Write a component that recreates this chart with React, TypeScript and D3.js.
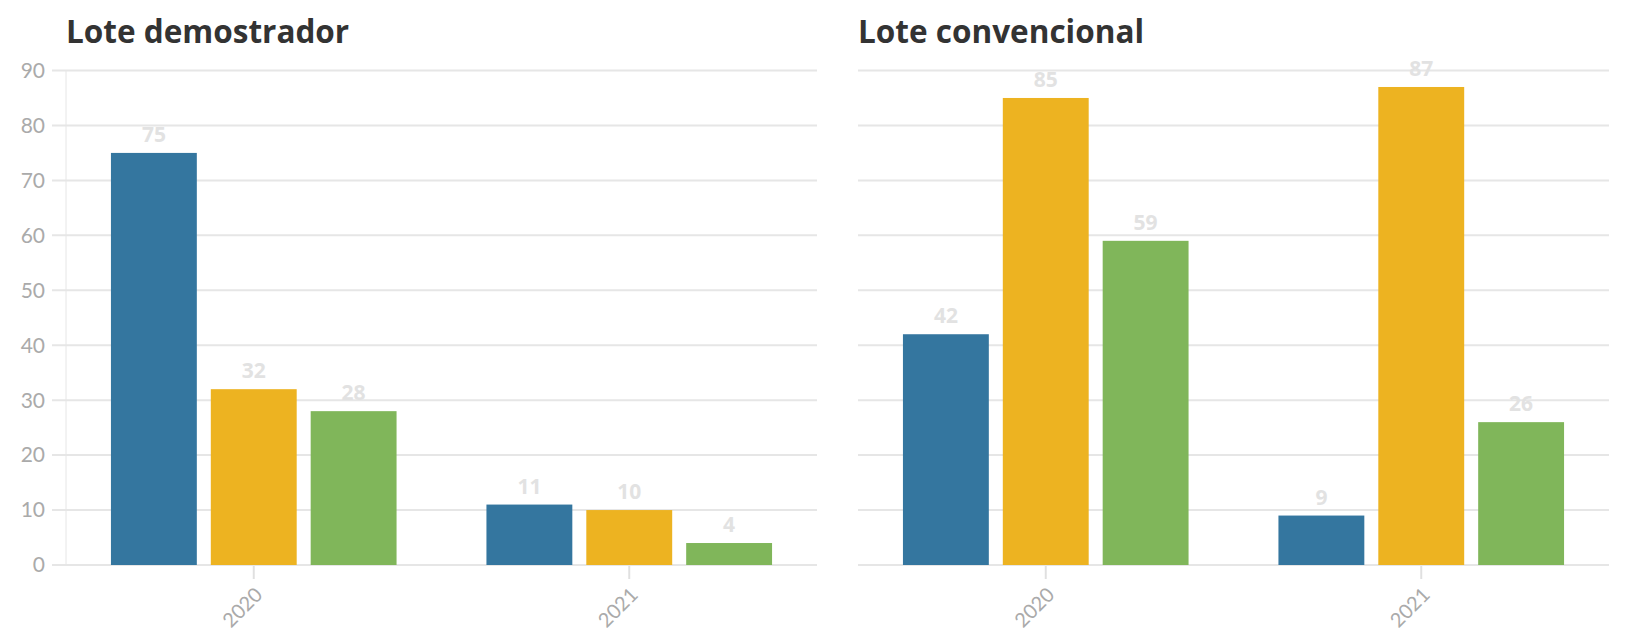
import React from 'react';
import * as d3 from 'd3';

// Chart data
const years = ['2020', '2021'];
const seriesNames = ['Serie A', 'Serie B', 'Serie C'];
const seriesColors = ['#34769f', '#edb321', '#80b65a'];
const demoValues = [
  [75, 32, 28],
  [11, 10, 4],
];
const convValues = [
  [42, 85, 59],
  [9, 87, 26],
];
const yTicks = [0, 10, 20, 30, 40, 50, 60, 70, 80, 90];

const width = 1634;
const height = 633;
const plotTop = 70.5;
const plotBottom = 565;
const font = 'Lato, "Open Sans", sans-serif';
const boldFont = '"Open Sans", Lato, sans-serif';

const yScale = d3.scaleLinear().domain([0, 90]).range([plotBottom, plotTop]);

type PanelProps = {
  title: string;
  values: number[][];
  x0: number;
  x1: number;
  showYAxis: boolean;
};

const Panel: React.FC<PanelProps> = ({ title, values, x0, x1, showYAxis }) => {
  const xGroup = d3.scaleBand().domain(years).range([x0, x1]).padding(0);
  const xInner = d3
    .scaleBand()
    .domain(seriesNames)
    .range([0, xGroup.bandwidth()])
    .paddingInner(0.14)
    .paddingOuter(0.45);

  return (
    <g>
      <text x={x0} y={43} fontFamily={boldFont} fontWeight={700} fontSize={31.5} fill="#333">
        {title}
      </text>

      {/* gridlines */}
      {yTicks.map(t => (
        <line
          key={t}
          x1={showYAxis ? x0 - 14 : x0}
          x2={x1}
          y1={yScale(t)}
          y2={yScale(t)}
          stroke="#e6e6e6"
          strokeWidth={2}
        />
      ))}

      {showYAxis && (
        <g>
          <line x1={x0} x2={x0} y1={plotTop} y2={plotBottom} stroke="#e6e6e6" strokeWidth={1} />
          {yTicks.map(t => (
            <text
              key={t}
              x={x0 - 21}
              y={yScale(t)}
              dy="0.35em"
              textAnchor="end"
              fontFamily={font}
              fontSize={21}
              fill="#aaa"
            >
              {t}
            </text>
          ))}
        </g>
      )}

      {/* bars */}
      {years.map((yr, gi) => {
        const gx = xGroup(yr) || 0;
        return (
          <g key={yr}>
            {values[gi].map((v, si) => {
              const bx = gx + (xInner(seriesNames[si]) || 0);
              return (
                <g key={si}>
                  <rect
                    x={bx}
                    y={yScale(v)}
                    width={xInner.bandwidth()}
                    height={plotBottom - yScale(v)}
                    fill={seriesColors[si]}
                  />
                  <text
                    x={bx + xInner.bandwidth() / 2}
                    y={yScale(v) - 11}
                    textAnchor="middle"
                    fontFamily={boldFont}
                    fontWeight={700}
                    fontSize={21}
                    fill="#e2e2e2"
                  >
                    {v}
                  </text>
                </g>
              );
            })}
          </g>
        );
      })}

      {/* x axis ticks and labels */}
      {years.map(yr => {
        const cx = (xGroup(yr) || 0) + xGroup.bandwidth() / 2;
        return (
          <g key={yr}>
            <line x1={cx} x2={cx} y1={plotBottom + 1} y2={plotBottom + 14} stroke="#e0e0e0" strokeWidth={2} />
            <text
              transform={`translate(${cx + 10},${plotBottom + 31}) rotate(-45)`}
              textAnchor="end"
              fontFamily={font}
              fontSize={20}
              fill="#aaa"
            >
              {yr}
            </text>
          </g>
        );
      })}
    </g>
  );
};

export default function App() {
  return (
    <svg
      width={width}
      height={height}
      style={{ position: 'absolute', left: 0, top: 0, background: '#fff' }}
    >
      <Panel title="Lote demostrador" values={demoValues} x0={66} x1={817} showYAxis={true} />
      <Panel title="Lote convencional" values={convValues} x0={858} x1={1609} showYAxis={false} />
    </svg>
  );
}
